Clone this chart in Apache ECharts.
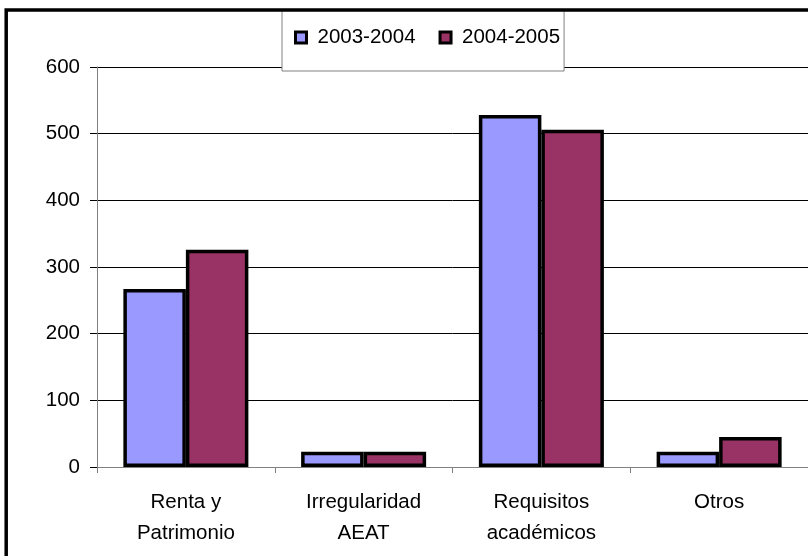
<!DOCTYPE html>
<html>
<head>
<meta charset="utf-8">
<script src="https://cdn.jsdelivr.net/npm/echarts@6/dist/echarts.min.js"></script>
<style>
  html, body { margin: 0; padding: 0; background: #fff; }
  #chart { width: 808px; height: 556px; }
</style>
</head>
<body>
<div id="chart"></div>
<script>
var categories = ["Renta y\nPatrimonio", "Irregularidad\nAEAT", "Requisitos\nacadémicos", "Otros"];
var seriesNames = ["2003-2004", "2004-2005"];
var values2003 = [267, 23, 528, 23];
var values2004 = [326, 23, 506, 45];
var yTicks = [0, 100, 200, 300, 400, 500, 600];

var font = "'Liberation Sans', Arial, sans-serif";
var chart = echarts.init(document.getElementById("chart"));

chart.setOption({
  animation: false,
  backgroundColor: "#fff",
  textStyle: { fontFamily: font },
  grid: { left: 97, top: 67, bottom: 89, right: -9 },
  legend: {
    data: seriesNames,
    left: 282,
    top: 10,
    orient: "horizontal",
    icon: "rect",
    itemWidth: 11,
    itemHeight: 11,
    itemGap: 23,
    padding: [17, 4, 23, 12],
    backgroundColor: "#fff",
    borderColor: "#808080",
    borderWidth: 1,
    borderRadius: 0,
    itemStyle: { borderColor: "#000", borderWidth: 3 },
    textStyle: { fontFamily: font, fontSize: 20.5, color: "#000", lineHeight: 20, padding: [0, 0, 0, 6] },
    z: 5
  },
  xAxis: {
    type: "category",
    data: categories,
    axisLine: { lineStyle: { color: "#808080", width: 1 } },
    axisTick: { show: true, length: 6, alignWithLabel: false, lineStyle: { color: "#808080" } },
    axisLabel: { fontFamily: font, fontSize: 20.5, color: "#000", lineHeight: 31, margin: 20, interval: 0 }
  },
  yAxis: {
    type: "value",
    min: yTicks[0],
    max: yTicks[yTicks.length - 1],
    interval: 100,
    axisLine: { show: true, lineStyle: { color: "#808080", width: 1 } },
    axisTick: { show: true, length: 7, lineStyle: { color: "#000" } },
    axisLabel: { fontFamily: font, fontSize: 20.5, color: "#000", margin: 17 },
    splitLine: { show: true, lineStyle: { color: "#000", width: 1 } }
  },
  series: [
    {
      name: seriesNames[0],
      type: "bar",
      data: values2003,
      barWidth: 62.5,
      barGap: "0%",
      itemStyle: { color: "#9999FF", borderColor: "#000", borderWidth: 3.5 }
    },
    {
      name: seriesNames[1],
      type: "bar",
      data: values2004,
      barWidth: 62.5,
      barGap: "0%",
      itemStyle: { color: "#993366", borderColor: "#000", borderWidth: 3.5 }
    }
  ],
  graphic: [
    {
      type: "rect",
      z: 100,
      silent: true,
      shape: { x: 6.2, y: 10, width: 900, height: 700 },
      style: { fill: null, stroke: "#000", lineWidth: 3.5 }
    }
  ]
});
</script>
</body>
</html>
